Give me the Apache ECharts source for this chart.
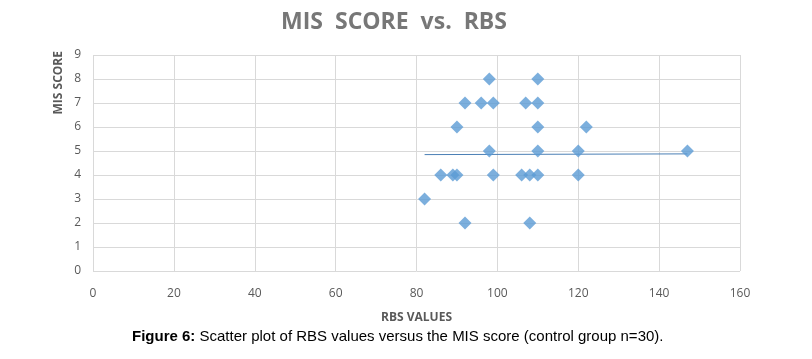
<!DOCTYPE html>
<html><head><meta charset="utf-8">
<script src="https://cdn.jsdelivr.net/npm/echarts@6/dist/echarts.min.js"></script>
<style>html,body{margin:0;padding:0;background:#fff}#c{width:812px;height:359px}</style>
</head><body><div id="c"></div>
<script>
const rbsValues = [98,110, 92,96,99,107,110, 90,110,122, 98,110,120,147, 86,89,90,99,106,108,110,120, 82, 92,108];
const misScores = [8,8, 7,7,7,7,7, 6,6,6, 5,5,5,5, 4,4,4,4,4,4,4,4, 3, 2,2];
const trendX = [82, 147];
const trendY = [4.85, 4.88];
const xTicks = [0,20,40,60,80,100,120,140,160];
const yTicks = [0,1,2,3,4,5,6,7,8,9];

const chart = echarts.init(document.getElementById('c'));
const gridColor = '#d9d9d9';
const labelColor = '#595959';
chart.setOption({
  animation:false,
  title:{text:'MIS  SCORE  vs.  RBS', left:389, top:6, textAlign:'center',
    textStyle:{fontFamily:'Open Sans', fontWeight:'bold', fontSize:23, color:'#777777'}},
  grid:{left:93, right:72, top:55, bottom:88},
  xAxis:{type:'value', min:xTicks[0], max:xTicks[xTicks.length-1], interval:20,
    axisLine:{show:false}, axisTick:{show:false},
    splitLine:{show:true, lineStyle:{color:gridColor}},
    axisLabel:{color:labelColor, fontFamily:'Open Sans', fontSize:12, margin:17},
    name:'RBS VALUES', nameLocation:'middle', nameGap:41,
    nameTextStyle:{color:labelColor, fontFamily:'Open Sans', fontWeight:'bold', fontSize:12}},
  yAxis:{type:'value', min:yTicks[0], max:yTicks[yTicks.length-1], interval:1,
    axisLine:{show:false}, axisTick:{show:false},
    splitLine:{show:true, lineStyle:{color:gridColor}},
    axisLabel:{color:labelColor, fontFamily:'Open Sans', fontSize:12, margin:12}},
  graphic:[
    {type:'text', left:53, top:51, rotation:Math.PI/2,
      style:{text:'MIS SCORE', fill:labelColor, font:'bold 12px "Open Sans"'}},
    {type:'text', left:132, top:329,
      style:{rich:{b:{font:'bold 15px "Liberation Sans"', fill:'#000'}, n:{font:'15px "Liberation Sans"', fill:'#000'}},
        text:'{b|Figure 6:}{n| Scatter plot of RBS values versus the MIS score (control group n=30).}'}}
  ],
  series:[
    {type:'line', data:trendX.map((x,i)=>[x,trendY[i]]), symbol:'none',
      lineStyle:{color:'#4a7fb5', width:1}, z:1},
    {type:'scatter', data:rbsValues.map((x,i)=>[x,misScores[i]]), symbol:'diamond', symbolSize:13,
      itemStyle:{color:'#5b9bd5'}, z:2}
  ]
});
</script></body></html>
